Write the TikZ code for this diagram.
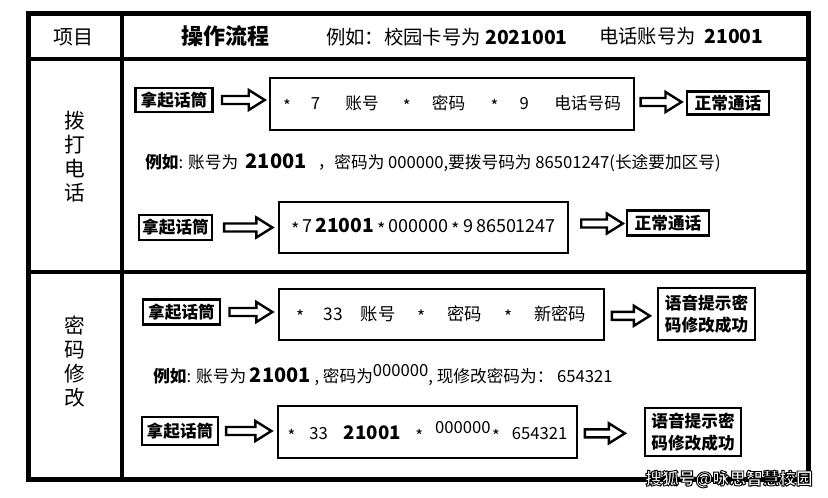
\documentclass[tikz,border=0pt]{standalone}
\usepackage{fontspec}
\setmainfont{Noto Sans CJK SC}
\usetikzlibrary{calc}
\newcommand\st{\raisebox{-2.5pt}{*}}
\newcommand\outl[1]{{\color{white}\special{pdf:literal direct 0 G 2 Tr 0.7 w}#1\special{pdf:literal direct 0 Tr}}}
\begin{document}
\begin{tikzpicture}[x=0.75pt,y=-0.75pt,
  btn/.style={draw,line width=2.2pt,inner sep=0pt,font=\bfseries\fontsize{12.5}{14}\selectfont},
  flowbox/.style={draw,line width=1.9pt,inner sep=0pt},
  holarrow/.style={draw,line width=1.8pt,line join=miter,to path={let \p1=(\tikztostart),\p2=(\tikztotarget) in (\x1,\y1+3pt) -- (\x2-12pt,\y1+3pt) -- (\x2-12pt,\y1+7.5pt) -- (\x2,\y1) -- (\x2-12pt,\y1-7.5pt) -- (\x2-12pt,\y1-3pt) -- (\x1,\y1-3pt) -- cycle}},
  ex/.style={anchor=west,inner sep=0pt,font=\fontsize{12.5}{14}\selectfont}
]
\fill[white] (0,0) rectangle (828,498);
\useasboundingbox (0,0) rectangle (828,498);
% table
\draw[line width=3pt] (28,59) -- (808,59);
\draw[line width=3pt] (28,272) -- (808,272);
\draw[line width=3pt] (122,14) -- (122,480);
\draw[line width=3.75pt] (28,14) rectangle (808,480);
% header
\node[font=\fontsize{15}{17}\selectfont] (h1) at (73,37) {项目};
\node[font=\bfseries\fontsize{16.5}{18}\selectfont] (h2) at (225,36) {操作流程};
\node[anchor=west,inner sep=0pt,font=\fontsize{14.5}{16}\selectfont] (h3) at (326,37) {例如：校园卡号为 \textbf{2021001}};
\node[anchor=west,inner sep=0pt,font=\fontsize{14.5}{16}\selectfont] (h4) at (599,36) {电话账号为\ \ \textbf{21001}};
% left column
\node[align=center,font=\fontsize{15.5}{18}\selectfont] (l1) at (75,157) {拨\\打\\电\\话};
\node[align=center,font=\fontsize{15.5}{18}\selectfont] (l2) at (75,362) {密\\码\\修\\改};
% row 1 line 1
\node[btn,minimum width=57.75pt,minimum height=18pt] (a1) at (174,100) {拿起话筒};
\node[flowbox,minimum width=273pt,minimum height=39pt,font=\fontsize{12.5}{14}\selectfont] (b1) at (452,104) {\st\hspace{15pt}7\hspace{19pt}账号\hspace{18pt}\st\hspace{16pt}密码\hspace{19pt}\st\hspace{16pt}9\hspace{19pt}电话号码};
\node[btn,minimum width=61.5pt,minimum height=17.25pt] (c1) at (728,103) {正常通话};
\draw[holarrow] ([xshift=6pt]a1.east) to ([xshift=-3pt]b1.west);
\draw[holarrow] ([xshift=4pt,yshift=1.5pt]b1.east) to ([xshift=-3pt]c1.west);
% row 1 example
\node[ex] (e1) at (145,163) {\textbf{例如}: 账号为\ \ {\bfseries\fontsize{15}{16}\selectfont 21001}\ \ \ ，密码为 000000,要拨号码为 86501247(长途要加区号)};
% row 1 line 3
\node[btn,minimum width=54.75pt,minimum height=18.75pt] (a2) at (175.5,227.5) {拿起话筒};
\node[flowbox,minimum width=216.75pt,minimum height=38.25pt,font=\fontsize{13.5}{15}\selectfont] (b2) at (423.5,227.5) {\st\,7\,{\bfseries\fontsize{14.5}{16}\selectfont 21001}\,\st\,000000\,\st\,9\,86501247};
\node[btn,minimum width=61.5pt,minimum height=18.75pt] (c2) at (668,223) {正常通话};
\draw[holarrow] ([xshift=8pt]a2.east) to ([xshift=-4pt]b2.west);
\draw[holarrow] ([xshift=9pt,yshift=3pt]b2.east) to ([xshift=-2pt]c2.west);
% row 2 line 1
\node[btn,minimum width=57.75pt,minimum height=19pt] (a3) at (181.5,312) {拿起话筒};
\node[flowbox,minimum width=243.75pt,minimum height=38.25pt,font=\fontsize{13}{15}\selectfont] (b3) at (441.5,314.5) {\st\hspace{14pt}33\hspace{13.5pt}账号\hspace{16.5pt}\st\hspace{16.5pt}密码\hspace{16.5pt}\st\hspace{16.5pt}新密码};
\node[btn,align=center,minimum width=72.75pt,minimum height=39pt,font=\bfseries\fontsize{12.5}{16}\selectfont] (c3) at (706.5,314) {语音提示密\\码修改成功};
\draw[holarrow] ([xshift=6pt]a3.east) to ([xshift=-4pt]b3.west);
\draw[holarrow] ([xshift=5pt,yshift=-1pt]b3.east) to ([xshift=-5pt]c3.west);
% row 2 example
\node[ex] (e2) at (153,375) {\textbf{例如}: 账号为 {\bfseries\fontsize{15}{16}\selectfont 21001} , 密码为\raisebox{4pt}{000000}, 现修改密码为： 654321};
% row 2 line 3
\node[btn,minimum width=57pt,minimum height=21pt] (a4) at (180,431) {拿起话筒};
\node[flowbox,minimum width=224.25pt,minimum height=39pt,font=\fontsize{12.5}{14}\selectfont] (b4) at (427.5,432) {\st\hspace{10.5pt}33\hspace{12pt}{\bfseries\fontsize{14}{16}\selectfont 21001}\hspace{11pt}\st\hspace{9pt}\raisebox{4pt}{000000}\hspace{1pt}\st\hspace{9pt}654321};
\node[btn,align=center,minimum width=72pt,minimum height=36pt,font=\bfseries\fontsize{12.5}{16}\selectfont] (c4) at (693,432) {语音提示密\\码修改成功};
\draw[holarrow] ([xshift=5pt]a4.east) to ([xshift=-4pt]b4.west);
\draw[holarrow] ([xshift=5pt,yshift=-1pt]b4.east) to ([xshift=-14pt]c4.west);
% watermark
\node[font=\bfseries\fontsize{12.5}{14}\selectfont,inner sep=0pt] (wm) at (729,479) {\outl{搜狐号@咏思智慧校园}};
\end{tikzpicture}
\end{document}
